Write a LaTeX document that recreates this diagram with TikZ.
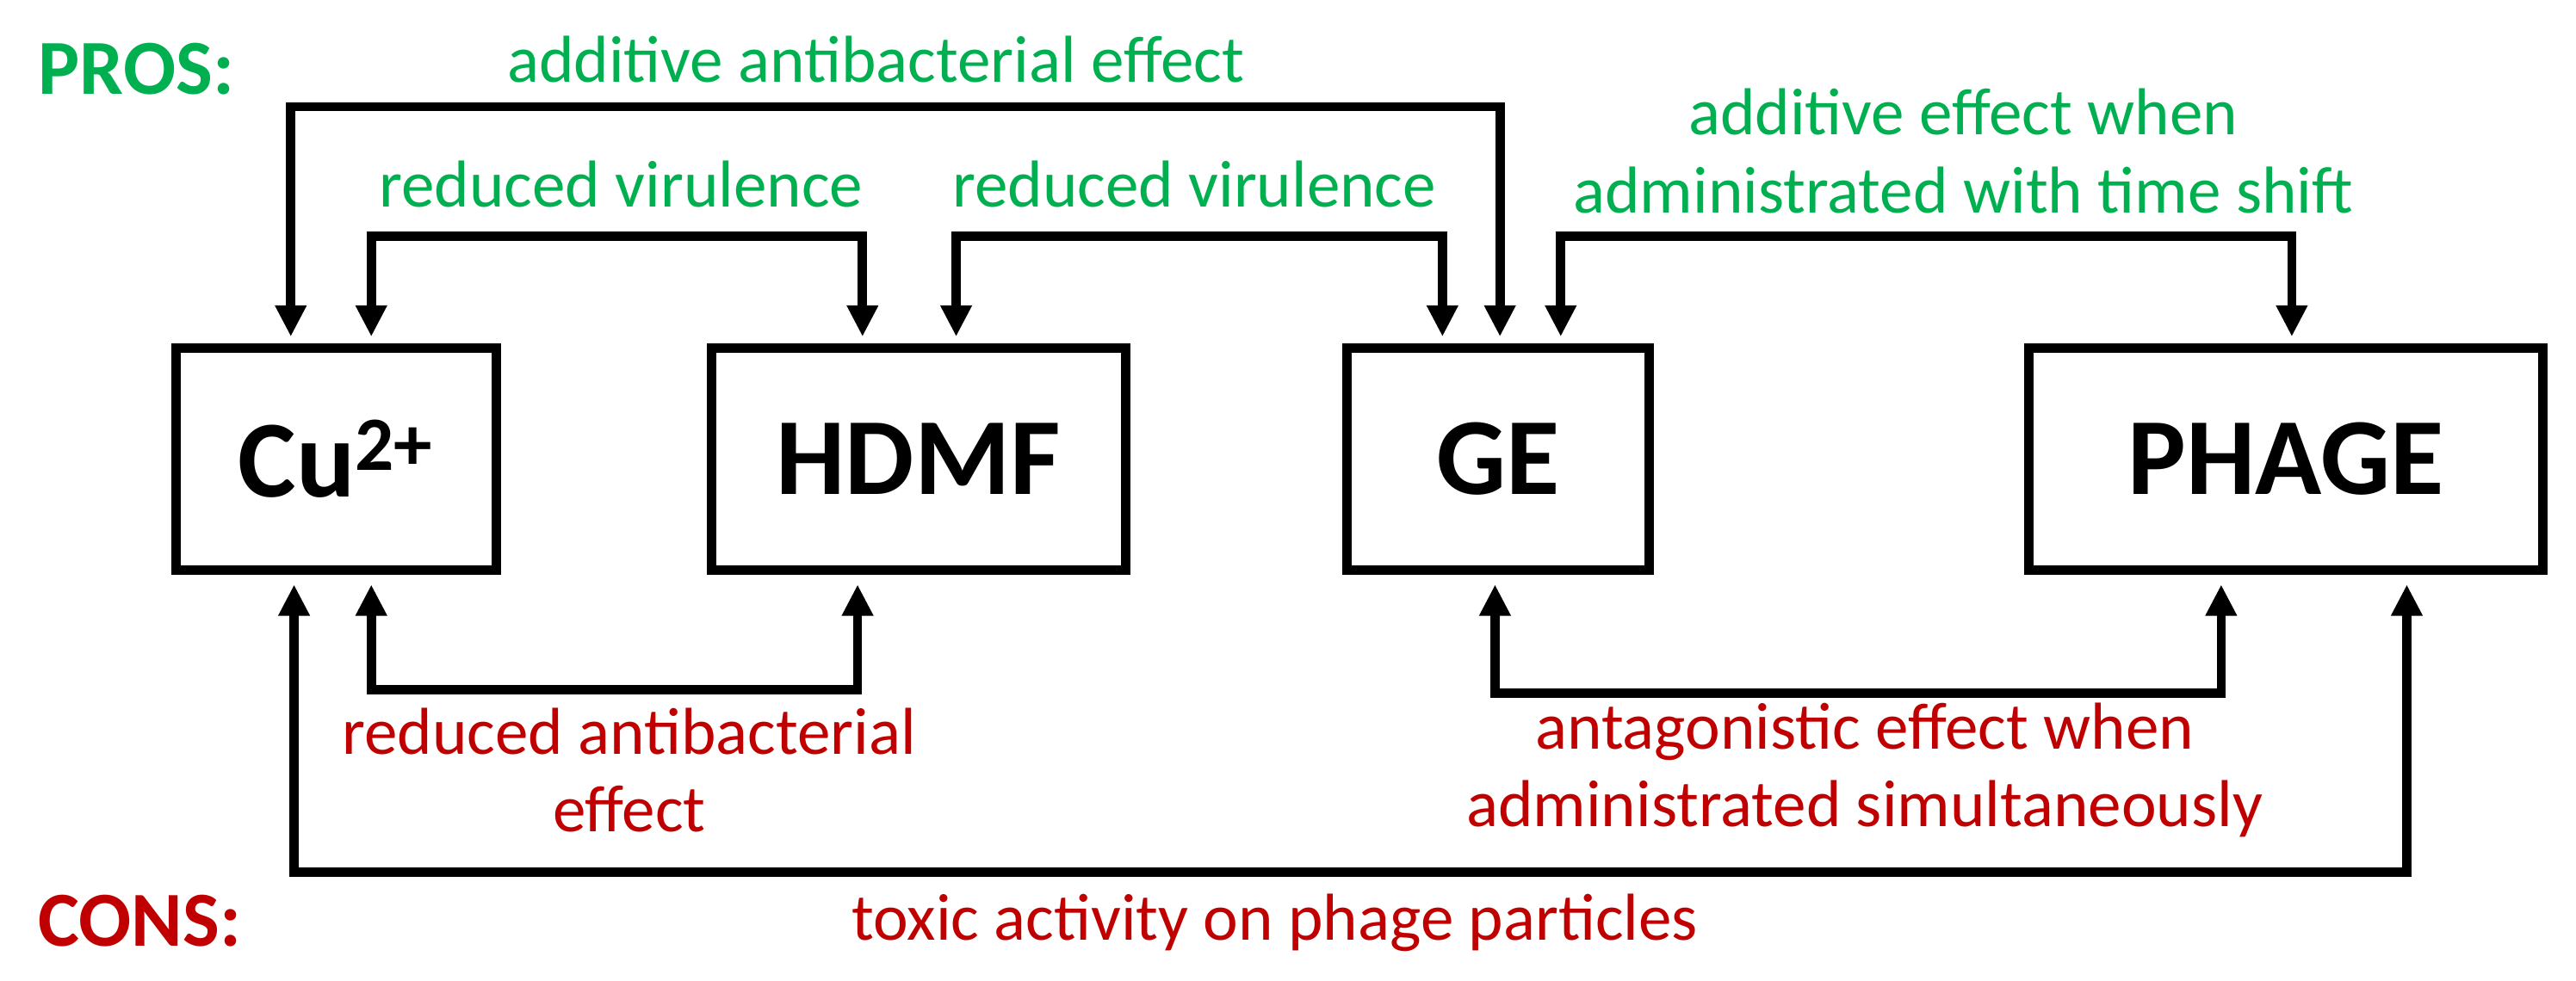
\documentclass[tikz,border=0pt]{standalone}
\usepackage{fontspec}
\setmainfont{Carlito}
\usetikzlibrary{arrows.meta}
\definecolor{pro}{RGB}{0,176,80}
\definecolor{con}{RGB}{192,0,0}
\begin{document}
\begin{tikzpicture}[x=0.02cm,y=-0.02cm,
  box/.style={draw,line width=3.3pt,inner sep=0pt,font=\fontsize{38}{40}\selectfont\bfseries},
  con/.style={line width=3.2pt,-{Triangle[length=0.38cm,width=0.36cm]}},
  dcon/.style={line width=3.2pt,{Triangle[length=0.38cm,width=0.36cm]}-{Triangle[length=0.38cm,width=0.36cm]}},
  lab/.style={font=\fontsize{23}{27}\selectfont,align=center},
  head/.style={font=\fontsize{27}{30}\selectfont\bfseries}]
\useasboundingbox (0,0) rectangle (1568,597);
\node[box,minimum width=3.9cm,minimum height=2.7cm] (cu) at (204.5,279.5) {Cu\textsuperscript{2+}};
\node[box,minimum width=5.04cm,minimum height=2.7cm] (hd) at (559,279.5) {HDMF};
\node[box,minimum width=3.68cm,minimum height=2.7cm] (ge) at (912,279.5) {GE};
\node[box,minimum width=6.26cm,minimum height=2.7cm] (ph) at (1391.5,279.5) {PHAGE};
\node[head,text=pro] (pros) at (83,42) {PROS:};
\node[head,text=con] (cons) at (85,561) {CONS:};
% top connectors
\coordinate (a1) at (177,205); \coordinate (a2) at (913,205);
\draw[dcon,rounded corners=0] (a1) -- (177,65) -- (913,65) -- (a2);
\coordinate (b1) at (226,205); \coordinate (b2) at (525,205);
\draw[dcon] (b1) -- (226,144) -- (525,144) -- (b2);
\coordinate (c1) at (582,205); \coordinate (c2) at (878,205);
\draw[dcon] (c1) -- (582,144) -- (878,144) -- (c2);
\coordinate (d1) at (950,205); \coordinate (d2) at (1395,205);
\draw[dcon] (d1) -- (950,144) -- (1395,144) -- (d2);
% bottom connectors
\coordinate (e1) at (226,356); \coordinate (e2) at (522,356);
\draw[dcon] (e1) -- (226,420) -- (522,420) -- (e2);
\coordinate (f1) at (910,356); \coordinate (f2) at (1352,356);
\draw[dcon] (f1) -- (910,422) -- (1352,422) -- (f2);
\coordinate (g1) at (179,356); \coordinate (g2) at (1465,356);
\draw[dcon] (g1) -- (179,531) -- (1465,531) -- (g2);
% labels
\node[lab,text=pro] (l1) at (533,36) {additive antibacterial effect};
\node[lab,text=pro] (l2) at (378,112) {reduced virulence};
\node[lab,text=pro] (l3) at (727,112) {reduced virulence};
\node[lab,text=pro] (l4) at (1195,92) {additive effect when\\administrated with time shift};
\node[lab,text=con] (l5) at (383,469) {reduced antibacterial\\effect};
\node[lab,text=con] (l6) at (1135,469) {antagonistic effect when\\administrated simultaneously};
\node[lab,text=con] (l7) at (776,562) {toxic activity on phage particles};
\end{tikzpicture}
\end{document}
